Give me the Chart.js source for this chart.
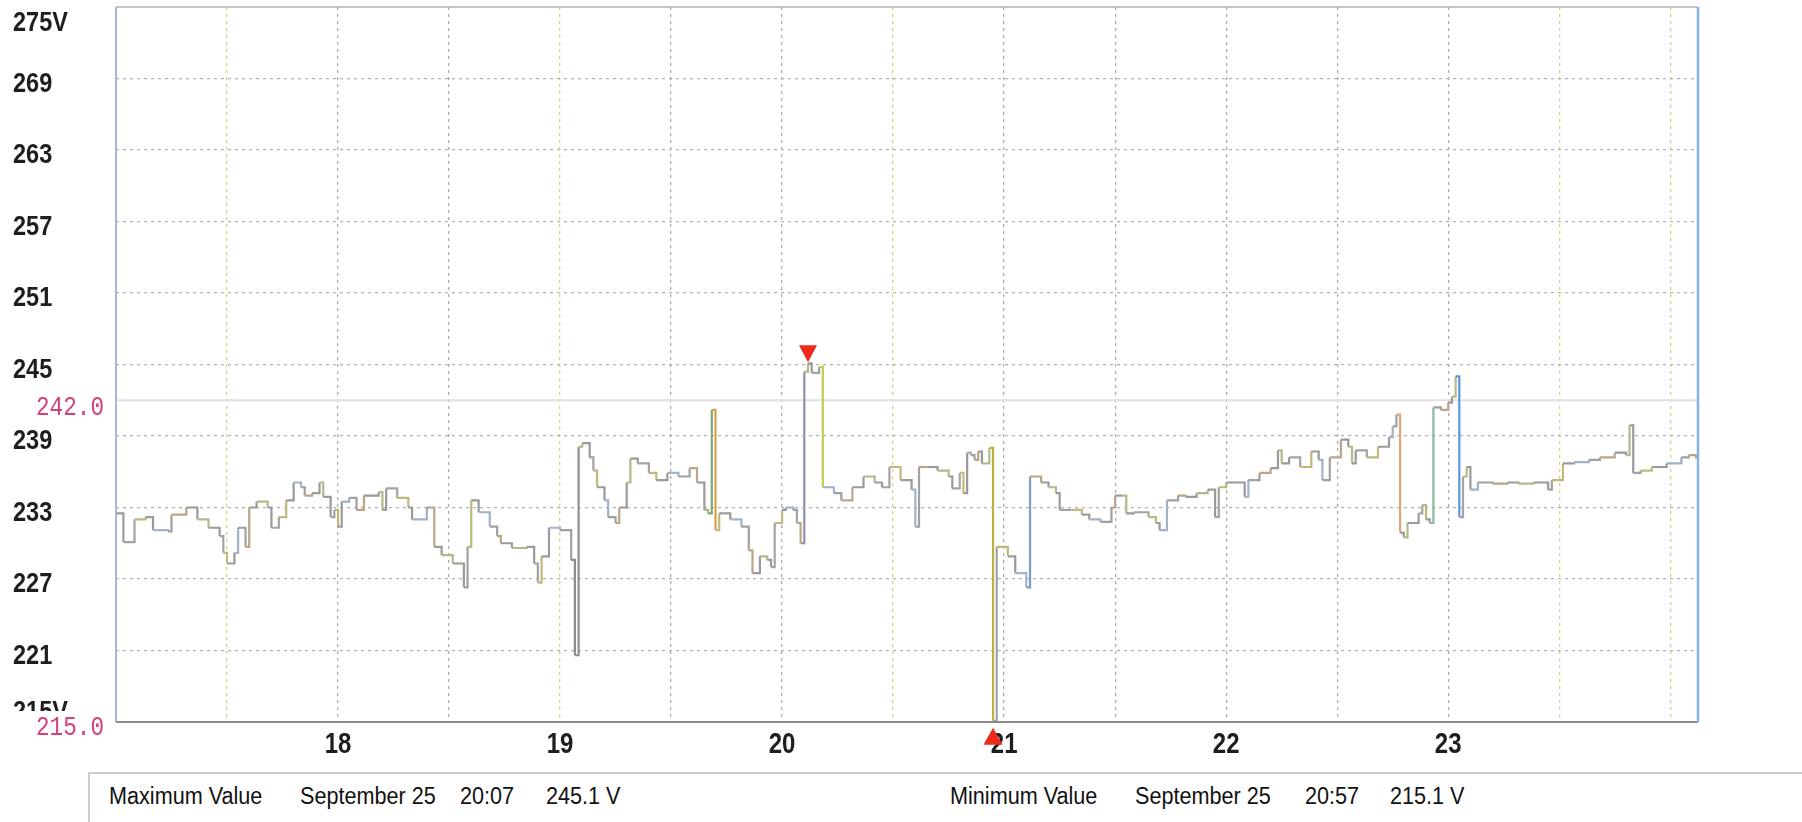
<!DOCTYPE html>
<html>
<head>
<meta charset="utf-8">
<title>Voltage log</title>
<script src="https://cdn.jsdelivr.net/npm/chart.js@4.4.1/dist/chart.umd.min.js"></script>
<style>
  html, body { margin: 0; padding: 0; background: #fff; }
  #wrap { position: relative; width: 1802px; height: 822px; overflow: hidden; background: #fff; }
  #chart { position: absolute; left: 0; top: 0; }
  #info {
    position: absolute; left: 88px; top: 772px; width: 1760px; height: 50px;
    border: 2px solid #cdcdcd; background: #fff;
    font-family: "Liberation Sans", Arial, sans-serif; font-size: 23px; color: #111;
  }
  #info span {
    position: absolute; top: 9px; line-height: 26px; white-space: nowrap;
    transform: scaleX(0.94); transform-origin: 0 50%;
  }
</style>
</head>
<body>
<div id="wrap">
  <canvas id="chart" width="1802" height="822"></canvas>
  <div id="info"></div>
</div>
<script>
// Sample clock times (HH:MM, 17:00 onward) and measured voltage at each time.
const sampleTimes = [
  '17:00','17:02','17:05','17:08','17:10','17:14','17:15','17:19','17:22','17:25',
  '17:28','17:29','17:30','17:32','17:33','17:35','17:36','17:38','17:41','17:42',
  '17:44','17:46','17:48','17:50','17:51','17:53','17:55','17:56','17:58','17:59',
  '18:00','18:01','18:03','18:05','18:07','18:11','18:12','18:13','18:16','18:19',
  '18:20','18:24','18:25','18:26','18:28','18:31','18:34','18:35','18:36','18:38',
  '18:41','18:43','18:44','18:47','18:51','18:53','18:54','18:55','18:57','19:00',
  '19:03','19:04','19:05','19:06','19:08','19:09','19:10','19:12','19:13','19:15',
  '19:16','19:18','19:19','19:21','19:24','19:26','19:29','19:32','19:35','19:37',
  '19:39','19:40','19:41','19:42','19:43','19:46','19:49','19:51','19:52','19:54',
  '19:56','19:57','19:58','20:00','20:01','20:03','20:04','20:05','20:06','20:07',
  '20:08','20:10','20:11','20:11','20:14','20:16','20:19','20:22','20:25','20:27',
  '20:29','20:32','20:35','20:36','20:37','20:39','20:42','20:45','20:46','20:48',
  '20:49','20:50','20:51','20:52','20:53','20:54','20:56','20:57','20:58','21:01',
  '21:03','21:06','21:07','21:10','21:12','21:14','21:15','21:18','21:21','21:23',
  '21:26','21:29','21:30','21:32','21:33','21:35','21:39','21:41','21:42','21:44',
  '21:47','21:49','21:52','21:55','21:57','21:58','22:00','22:05','22:06','22:09',
  '22:12','22:14','22:15','22:17','22:20','22:23','22:25','22:26','22:28','22:31',
  '22:33','22:34','22:35','22:38','22:41','22:44','22:45','22:46','22:47','22:48',
  '22:49','22:52','22:53','22:54','22:55','22:56','22:58','23:00','23:01','23:02',
  '23:03','23:04','23:05','23:06','23:08','23:12','23:16','23:19','23:23','23:27',
  '23:28','23:31','23:34','23:38','23:41','23:45','23:48','23:49','23:50','23:52',
  '23:55','23:59','24:03','24:05','24:07'
];
const voltage = [
  232.5,230.1,232.0,232.2,231.1,231.0,232.4,233.0,232.0,231.3,
  230.6,229.2,228.3,229.2,231.3,229.7,233.0,233.5,233.0,231.3,
  232.2,233.6,235.1,234.7,234.0,234.2,235.1,233.9,232.2,232.8,
  231.4,233.5,233.8,232.8,234.0,234.3,232.8,234.6,233.8,233.0,
  232.0,233.0,233.0,229.7,229.0,228.3,226.3,229.7,233.6,232.6,
  231.4,230.6,230.0,229.6,229.7,228.3,226.7,228.9,231.3,231.1,
  228.6,220.6,238.1,238.4,237.2,236.1,234.7,233.6,232.2,231.7,
  233.0,235.1,237.1,236.7,235.9,235.3,235.9,235.6,236.3,235.1,
  232.8,232.5,241.2,231.1,232.5,232.0,231.4,229.4,227.5,228.9,
  228.6,228.0,231.7,232.8,233.0,232.8,231.7,230.0,244.4,245.1,
  244.3,244.8,244.6,234.7,234.2,233.6,234.7,235.6,235.1,234.7,
  236.4,235.3,234.5,231.4,236.4,236.4,236.1,235.6,234.6,235.9,
  234.2,237.6,237.4,237.0,237.7,236.7,238.0,215.1,229.7,228.9,
  227.5,226.3,235.6,235.1,234.7,234.2,232.8,232.8,232.4,232.0,
  231.8,233.0,234.0,234.0,232.5,232.6,232.2,231.7,231.1,233.6,
  234.0,233.9,234.2,234.5,232.2,234.7,235.1,233.9,235.3,235.9,
  236.3,237.8,236.7,237.2,236.4,237.7,237.0,235.3,237.2,238.7,
  238.1,236.7,237.8,237.2,238.1,238.9,239.8,240.8,230.9,230.5,
  231.7,232.5,233.2,232.0,231.7,241.4,241.2,241.8,242.3,244.0,
  232.2,235.6,236.4,234.5,235.1,235.0,235.1,235.0,235.1,234.5,
  235.3,236.7,236.8,237.0,237.2,237.6,237.4,239.9,235.9,236.1,
  236.4,236.7,237.2,237.4,237.1
];

// Axis values
const yTickValues = [215, 221, 227, 233, 239, 245, 251, 257, 263, 269, 275];
const hourLabels = [18, 19, 20, 21, 22, 23];
const gridHours = [17.5, 18, 18.5, 19, 19.5, 20, 20.5, 21, 21.5, 22, 22.5, 23, 23.5, 24];
const referenceLevel = 242.0;
const dateLabel = 'September 25';

const toHours = t => { const [h, m] = t.split(':').map(Number); return h + m / 60; };
const points = sampleTimes.map((t, i) => ({ x: toHours(t), y: voltage[i] }));

// Line colouring: mostly grey, faint tints between samples, stronger tints on jumps
const tintCycle = ['#9a9a9a', '#a3a3a3', '#bfba7c', '#9a9a9a', '#a2b2c8', '#a0a0a0', '#bca586', '#9a9a9a', '#b2ba8a'];
const jumpTints = {
  '19:04': '#8a8a8a', '19:05': '#8f8f96', '19:41': '#7fa873', '19:42': '#d6a04c',
  '20:06': '#9090a8', '20:11': '#c6cb4c', '20:57': '#b8b444', '21:07': '#7f9dc6',
  '22:47': '#e2a47a', '22:56': '#84baa0', '23:03': '#5c94dc'
};
const yellowGrid = [17.5, 19, 20.5, 23.5, 24];

const maxIdx = voltage.indexOf(Math.max(...voltage));
const minIdx = voltage.indexOf(Math.min(...voltage));

const sansFont = '"Liberation Sans", Arial, sans-serif';
const monoFont = '"Liberation Mono", "DejaVu Sans Mono", monospace';

// Draws horizontally condensed text centred vertically on cy
function narrowText(ctx, text, x, cy, size, family, weight, color, align, sx) {
  ctx.save();
  ctx.font = weight + ' ' + size + 'px ' + family;
  ctx.fillStyle = color;
  ctx.textBaseline = 'alphabetic';
  ctx.translate(x, cy + size * 0.358);
  ctx.scale(sx, 1);
  ctx.textAlign = align;
  ctx.fillText(text, 0, 0);
  ctx.restore();
}

const framePlugin = {
  id: 'frame',
  beforeDatasetsDraw(chart) {
    const { ctx, chartArea: a, scales: { y } } = chart;
    const ry = y.getPixelForValue(referenceLevel);
    ctx.save();
    ctx.strokeStyle = '#e8dce2';
    ctx.lineWidth = 2;
    ctx.beginPath(); ctx.moveTo(a.left, ry); ctx.lineTo(a.right, ry); ctx.stroke();
    ctx.restore();
  },
  afterDatasetsDraw(chart) {
    const { ctx, chartArea: a } = chart;
    const line = (x1, y1, x2, y2, c, w) => {
      ctx.save(); ctx.strokeStyle = c; ctx.lineWidth = w;
      ctx.beginPath(); ctx.moveTo(x1, y1); ctx.lineTo(x2, y2); ctx.stroke(); ctx.restore();
    };
    line(a.left, a.top, a.right, a.top, '#b4b4b4', 1.5);
    line(a.left, a.top, a.left, a.bottom, '#a3b8d6', 2);
    line(a.left, a.bottom, a.right, a.bottom, '#8c8c8c', 2);
    line(a.right, a.top, a.right, a.bottom, '#84b2ea', 2.5);
  },
  afterDraw(chart) {
    const { ctx, chartArea: a, scales: { x, y } } = chart;
    // Voltage tick labels
    yTickValues.forEach(v => {
      const text = (v === yTickValues[0] || v === yTickValues[yTickValues.length - 1]) ? v + 'V' : String(v);
      const cy = Math.min(Math.max(y.getPixelForValue(v) + 3, a.top + 14), a.bottom - 12);
      narrowText(ctx, text, 13, cy, 28, sansFont, 'bold', '#1e1e1e', 'left', 0.84);
    });
    // Reference level and range floor labels
    narrowText(ctx, referenceLevel.toFixed(1), 104, y.getPixelForValue(referenceLevel) + 5,
               28, monoFont, 'normal', '#d4427c', 'right', 0.81);
    ctx.save(); ctx.fillStyle = '#fff'; ctx.fillRect(0, a.bottom - 11, a.left - 4, 30); ctx.restore();
    narrowText(ctx, y.min.toFixed(1), 104, y.getPixelForValue(y.min) + 3,
               28, monoFont, 'normal', '#d4427c', 'right', 0.81);
    // Hour labels
    hourLabels.forEach(h => narrowText(ctx, String(h), x.getPixelForValue(h), a.bottom + 20,
                                       30, sansFont, 'bold', '#1e1e1e', 'center', 0.8));
    // Maximum / minimum markers
    const tri = (px, tipY, baseY, half) => {
      ctx.save(); ctx.fillStyle = '#ee2a1c';
      ctx.beginPath(); ctx.moveTo(px, tipY); ctx.lineTo(px - half, baseY); ctx.lineTo(px + half, baseY);
      ctx.closePath(); ctx.fill(); ctx.restore();
    };
    const mx = x.getPixelForValue(points[maxIdx].x), my = y.getPixelForValue(points[maxIdx].y);
    tri(mx, my - 1, my - 18, 9);
    const nx = x.getPixelForValue(points[minIdx].x), ny = y.getPixelForValue(points[minIdx].y);
    tri(nx, ny + 7, ny + 24, 9.5);
  }
};

new Chart(document.getElementById('chart'), {
  type: 'line',
  data: {
    datasets: [{
      label: 'Voltage',
      data: points,
      borderColor: '#9a9a9a',
      borderWidth: 2.2,
      pointRadius: 0,
      stepped: true,
      segment: {
        borderColor: c => jumpTints[sampleTimes[c.p1DataIndex]] || tintCycle[c.p0DataIndex % tintCycle.length]
      }
    }]
  },
  options: {
    responsive: false,
    animation: false,
    devicePixelRatio: 1,
    layout: { padding: { left: 116, top: 7, right: 104, bottom: 100 } },
    plugins: { legend: { display: false }, tooltip: { enabled: false } },
    scales: {
      x: {
        type: 'linear', min: 17, max: 24.125,
        afterBuildTicks: s => { s.ticks = gridHours.map(v => ({ value: v })); },
        ticks: { display: false },
        border: { display: false, dash: [3, 4] },
        grid: {
          drawTicks: false, lineWidth: 1.3,
          color: c => yellowGrid.includes(c.tick.value) ? '#d8d27a' : '#acacac'
        }
      },
      y: {
        type: 'linear', min: 215, max: 275,
        afterBuildTicks: s => { s.ticks = yTickValues.map(v => ({ value: v })); },
        ticks: { display: false },
        border: { display: false, dash: [3, 4] },
        grid: {
          drawTicks: false, lineWidth: 1.3,
          color: c => (c.tick.value === 215 || c.tick.value === 275) ? 'rgba(0,0,0,0)' : '#b2b2b2'
        }
      }
    }
  },
  plugins: [framePlugin]
});

// Summary strip below the plot
const info = document.getElementById('info');
const fields = [
  ['Maximum Value', 19], [dateLabel, 210], [sampleTimes[maxIdx], 370], [voltage[maxIdx].toFixed(1) + ' V', 456],
  ['Minimum Value', 860], [dateLabel, 1045], [sampleTimes[minIdx], 1215], [voltage[minIdx].toFixed(1) + ' V', 1300]
];
fields.forEach(([text, left]) => {
  const s = document.createElement('span');
  s.textContent = text;
  s.style.left = left + 'px';
  info.appendChild(s);
});
</script>
</body>
</html>
